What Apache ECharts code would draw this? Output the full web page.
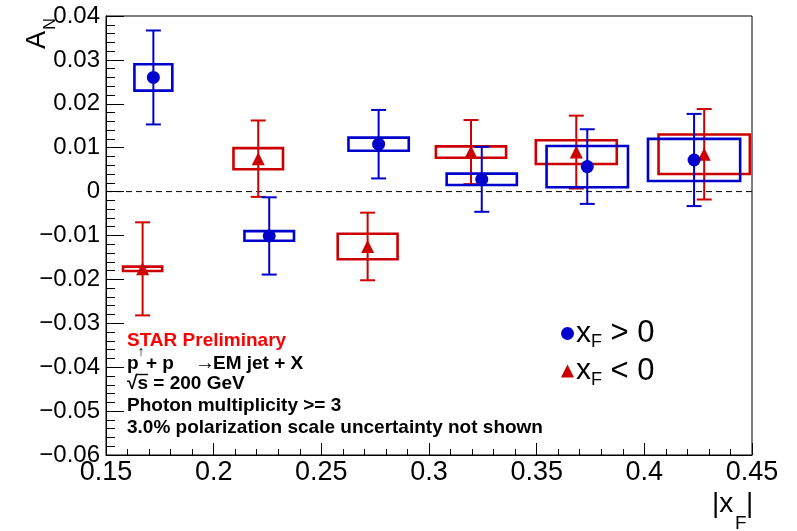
<!DOCTYPE html>
<html>
<head>
<meta charset="utf-8">
<script src="https://cdn.jsdelivr.net/npm/echarts@6/dist/echarts.min.js"></script>
<style>html,body{margin:0;padding:0;background:#fff}#c{width:797px;height:531px}</style>
</head>
<body>
<div id="c"></div>
<script>
// x_F > 0 (blue circles)
const xPos    = [0.1720, 0.2258, 0.2766, 0.3245, 0.3735, 0.4231];
const yPos    = [0.0260, -0.0101, 0.0108, 0.0028, 0.0057, 0.0072];
const statPos = [0.0107, 0.0088, 0.0078, 0.0074, 0.0085, 0.0105];
const sysPos  = [0.0030, 0.0011, 0.0015, 0.0013, 0.0047, 0.0048];
const binHalfPos = [0.0088, 0.0115, 0.0140, 0.0163, 0.0189, 0.0214];
// x_F < 0 (red triangles)
const xNeg    = [0.1670, 0.2207, 0.2715, 0.3195, 0.3684, 0.4278];
const yNeg    = [-0.0176, 0.0075, -0.0125, 0.0090, 0.0090, 0.0085];
const statNeg = [0.0106, 0.0087, 0.0077, 0.0073, 0.0083, 0.0103];
const sysNeg  = [0.0005, 0.0024, 0.0029, 0.0013, 0.0027, 0.0045];
const binHalfNeg = [0.0091, 0.0115, 0.0139, 0.0163, 0.0188, 0.0212];
// axes
const xMin = 0.15, xMax = 0.45, xStep = 0.05;
const yMin = -0.06, yMax = 0.04, yStep = 0.01;

const BLUE = '#0000cc', RED = '#cc0000';
const FONT = '"Liberation Sans", Arial, Helvetica, sans-serif';

function boxSeries(xs, ys, hws, sys, color, z) {
  return {
    type: 'custom', silent: true, z: z,
    data: xs.map((x, i) => [x, ys[i], hws[i], sys[i]]),
    encode: {x: 0, y: 1},
    renderItem: function (params, api) {
      const x = api.value(0), y = api.value(1), hw = api.value(2), s = api.value(3);
      const p1 = api.coord([x - hw, y + s]);
      const p2 = api.coord([x + hw, y - s]);
      return {type: 'rect', shape: {x: p1[0], y: p1[1], width: p2[0] - p1[0], height: p2[1] - p1[1]},
        style: {fill: 'none', stroke: color, lineWidth: 2.6}};
    }
  };
}
function errSeries(xs, ys, es, color, z) {
  return {
    type: 'custom', silent: true, z: z,
    data: xs.map((x, i) => [x, ys[i], es[i]]),
    encode: {x: 0, y: 1},
    renderItem: function (params, api) {
      const x = api.value(0), y = api.value(1), e = api.value(2);
      const top = api.coord([x, y + e]);
      const bot = api.coord([x, y - e]);
      const cw = 7.5;
      const st = {stroke: color, lineWidth: 2};
      return {type: 'group', children: [
        {type: 'line', shape: {x1: top[0], y1: top[1], x2: bot[0], y2: bot[1]}, style: st},
        {type: 'line', shape: {x1: top[0] - cw, y1: top[1], x2: top[0] + cw, y2: top[1]}, style: st},
        {type: 'line', shape: {x1: bot[0] - cw, y1: bot[1], x2: bot[0] + cw, y2: bot[1]}, style: st}
      ]};
    }
  };
}

const chart = echarts.init(document.getElementById('c'), null, {renderer: 'canvas'});
const fmt = v => {
  const r = Math.round(v * 1000) / 1000;
  if (Math.abs(r) < 1e-9) return '0';
  return (r < 0 ? '\u2212' : '') + String(Math.abs(r));
};
const B19 = 'bold 19px ' + FONT;
chart.setOption({
  animation: false,
  backgroundColor: '#fff',
  grid: {left: 106, top: 16, right: 45, bottom: 76, show: true, borderColor: '#000', borderWidth: 1, backgroundColor: 'transparent'},
  xAxis: {
    type: 'value', min: xMin, max: xMax, interval: xStep,
    axisLine: {show: true, onZero: false, lineStyle: {color: '#000', width: 1}},
    axisTick: {show: true, inside: true, length: 12, lineStyle: {color: '#000'}},
    minorTick: {show: true, splitNumber: 5, length: 6, lineStyle: {color: '#000'}},
    splitLine: {show: false},
    axisLabel: {fontSize: 27, color: '#000', fontFamily: FONT, margin: 4, formatter: fmt, showMinLabel: true, showMaxLabel: true}
  },
  yAxis: {
    type: 'value', min: yMin, max: yMax, interval: yStep,
    axisLine: {show: true, onZero: false, lineStyle: {color: '#000', width: 1}},
    axisTick: {show: true, inside: true, length: 18, lineStyle: {color: '#000'}},
    minorTick: {show: true, splitNumber: 5, length: 9, lineStyle: {color: '#000'}},
    splitLine: {show: false},
    axisLabel: {fontSize: 24, color: '#000', fontFamily: FONT, margin: 6, formatter: fmt, showMinLabel: true, showMaxLabel: true}
  },
  legend: {
    orient: 'vertical', left: 556, top: 313, itemGap: 4, itemWidth: 13, itemHeight: 13,
    data: [{name: 'pos', icon: 'circle'}, {name: 'neg', icon: 'triangle'}],
    formatter: function (name) { return name === 'pos' ? '{x|x}{s|F}{t| > 0}' : '{x|x}{s|F}{t| < 0}'; },
    textStyle: {
      padding: [0, 0, 0, -3],
      rich: {
        x: {fontSize: 30, fontFamily: FONT, color: '#000', lineHeight: 40},
        s: {fontSize: 18, fontFamily: FONT, color: '#000', padding: [18, 0, 0, 0]},
        t: {fontSize: 31, fontFamily: FONT, color: '#000', lineHeight: 40}
      }
    }
  },
  series: [
    {type: 'line', silent: true, z: 1, symbol: 'none', data: [[xMin, 0], [xMax, 0]],
      lineStyle: {color: '#000', width: 1, type: [6, 4]}},
    boxSeries(xNeg, yNeg, binHalfNeg, sysNeg, RED, 2),
    errSeries(xNeg, yNeg, statNeg, RED, 3),
    {name: 'neg', type: 'scatter', z: 4, symbol: 'triangle', symbolSize: 13,
      itemStyle: {color: RED, opacity: 1}, data: xNeg.map((x, i) => [x, yNeg[i]])},
    boxSeries(xPos, yPos, binHalfPos, sysPos, BLUE, 5),
    errSeries(xPos, yPos, statPos, BLUE, 6),
    {name: 'pos', type: 'scatter', z: 7, symbol: 'circle', symbolSize: 13,
      itemStyle: {color: BLUE, opacity: 1}, data: xPos.map((x, i) => [x, yPos[i]])}
  ],
  graphic: [
    // y title A_N
    {type: 'text', x: 38, y: 40, rotation: Math.PI / 2, style: {text: 'A', font: '27px ' + FONT, fill: '#000', align: 'center', verticalAlign: 'middle'}},
    {type: 'text', x: 51, y: 24, rotation: Math.PI / 2, style: {text: 'N', font: '16px ' + FONT, fill: '#000', align: 'center', verticalAlign: 'middle'}},
    // x title |x_F|
    {type: 'text', x: 712, y: 504, style: {text: '|x', font: '28px ' + FONT, fill: '#000', align: 'left', verticalAlign: 'middle'}},
    {type: 'text', x: 735, y: 524, style: {text: 'F', font: '19px ' + FONT, fill: '#000', align: 'left', verticalAlign: 'middle'}},
    {type: 'text', x: 746, y: 504, style: {text: '|', font: '28px ' + FONT, fill: '#000', align: 'left', verticalAlign: 'middle'}},
    // annotation block
    {type: 'text', x: 127, y: 341, style: {text: 'STAR Preliminary', font: B19, fill: '#ff0000', verticalAlign: 'middle'}},
    {type: 'text', x: 127, y: 364, style: {text: 'p', font: B19, fill: '#000', verticalAlign: 'middle'}},
    {type: 'text', x: 137.5, y: 352, style: {text: '\u2191', font: '14px ' + FONT, fill: '#000', verticalAlign: 'middle'}},
    {type: 'text', x: 146, y: 364, style: {text: '+ p', font: B19, fill: '#000', verticalAlign: 'middle'}},
    {type: 'text', x: 195, y: 363, style: {text: '\u2192', font: '20px ' + FONT, fill: '#000', verticalAlign: 'middle'}},
    {type: 'text', x: 213, y: 364, style: {text: 'EM jet + X', font: B19, fill: '#000', verticalAlign: 'middle'}},
    {type: 'text', x: 127, y: 384, style: {text: '\u221As = 200 GeV', font: B19, fill: '#000', verticalAlign: 'middle'}},
    {type: 'line', shape: {x1: 136, y1: 374.5, x2: 148, y2: 374.5}, style: {stroke: '#000', lineWidth: 1.4}},
    {type: 'text', x: 127, y: 406, style: {text: 'Photon multiplicity >= 3', font: B19, fill: '#000', verticalAlign: 'middle'}},
    {type: 'text', x: 127, y: 428, style: {text: '3.0% polarization scale uncertainty not shown', font: B19, fill: '#000', verticalAlign: 'middle'}}
  ]
});
</script>
</body>
</html>
